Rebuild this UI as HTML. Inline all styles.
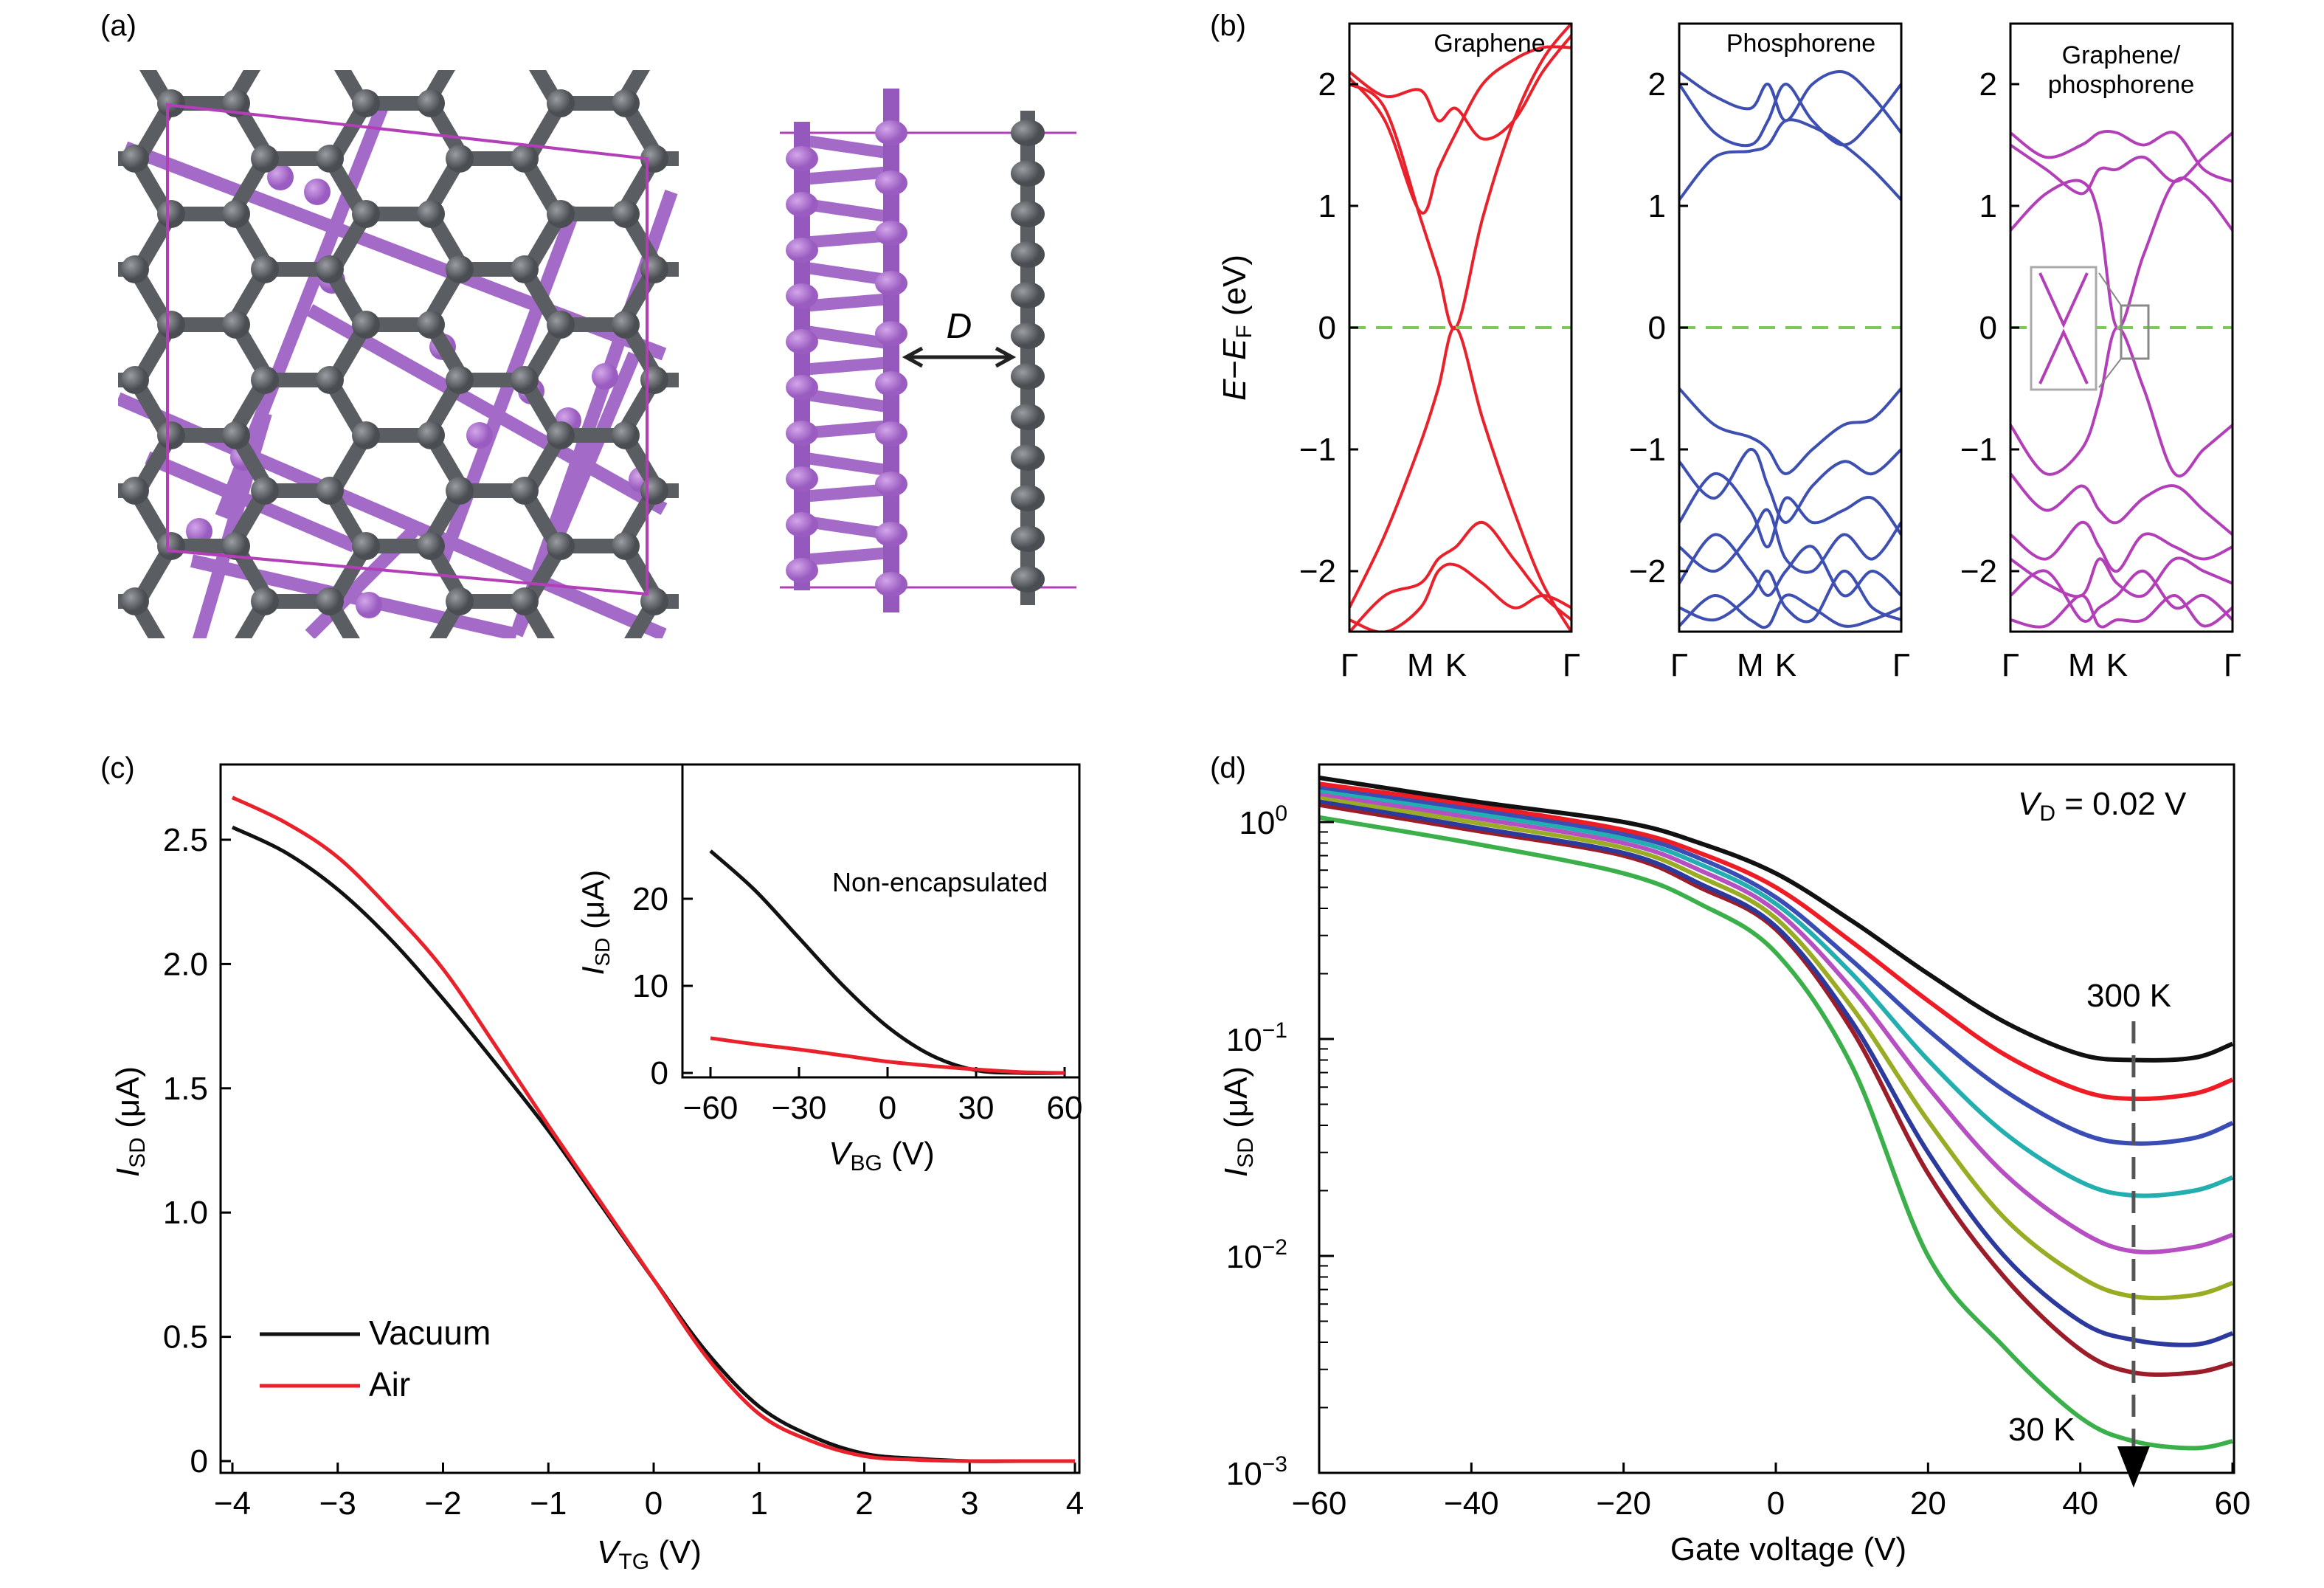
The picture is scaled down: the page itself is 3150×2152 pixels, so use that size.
<!DOCTYPE html>
<html><head><meta charset="utf-8"><style>
html,body{margin:0;padding:0;background:#fff;}
svg{display:block;font-family:"Liberation Sans",sans-serif;}
</style></head><body>
<svg id="fig" width="3150" height="2152" viewBox="0 0 3150 2152" xmlns="http://www.w3.org/2000/svg">
<g id="pa"></g>
<g id="pb"></g>
<g id="pc"></g>
<g id="pd"></g>
<text x="136" y="48" font-size="40">(a)</text>
<text x="1640" y="48" font-size="40">(b)</text>
<text x="136" y="1054" font-size="40">(c)</text>
<text x="1640" y="1054" font-size="40">(d)</text>
</svg>
<script>
const NS="http://www.w3.org/2000/svg";
function el(parent,tag,attrs,text){const e=document.createElementNS(NS,tag);for(const k in attrs)e.setAttribute(k,attrs[k]);if(text!==undefined)e.textContent=text;parent.appendChild(e);return e;}
function lin(d0,d1,r0,r1){return v=>r0+(v-d0)/(d1-d0)*(r1-r0);}
function smooth(pts){let d="M"+pts[0][0]+","+pts[0][1];for(let i=0;i<pts.length-1;i++){const p0=pts[Math.max(0,i-1)],p1=pts[i],p2=pts[i+1],p3=pts[Math.min(pts.length-1,i+2)];const c1=[p1[0]+(p2[0]-p0[0])/6,p1[1]+(p2[1]-p0[1])/6],c2=[p2[0]-(p3[0]-p1[0])/6,p2[1]-(p3[1]-p1[1])/6];d+=" C"+c1[0]+","+c1[1]+" "+c2[0]+","+c2[1]+" "+p2[0]+","+p2[1];}return d;}

/* ===== Panel c data ===== */
const cX=[-4,-3.5,-3,-2.5,-2,-1.5,-1,-0.5,0,0.5,1,1.5,2,2.5,3,3.5,4];
const cVacuum=[2.55,2.45,2.30,2.10,1.86,1.60,1.33,1.03,0.73,0.44,0.22,0.10,0.03,0.01,0,0,0];
const cAir=[2.67,2.57,2.43,2.22,1.98,1.67,1.35,1.04,0.73,0.42,0.19,0.08,0.02,0.005,0,0,0];
const cXTicks=[-4,-3,-2,-1,0,1,2,3,4];
const cYTicks=[0,0.5,1.0,1.5,2.0,2.5];
const cYLabels=["0","0.5","1.0","1.5","2.0","2.5"];
const inX=[-60,-45,-30,-15,0,15,30,45,60];
const inBlack=[25.5,21,15.5,10,5.3,2.0,0.3,0,0];
const inRed=[4,3.3,2.7,2.0,1.3,0.8,0.4,0.1,0];
const inXTicks=[-60,-30,0,30,60];
const inYTicks=[0,10,20];

/* ===== Panel d data ===== */
const dX=[-60,-40,-20,-10,0,10,20,30,40,47,55,60];
const dBlack=[1.6,1.25,1.0,0.8,0.58,0.35,0.2,0.12,0.085,0.08,0.082,0.095];
const dRed=[1.5,1.2,0.92,0.72,0.5,0.28,0.15,0.085,0.058,0.053,0.056,0.065];
const dBlue=[1.45,1.15,0.88,0.68,0.45,0.23,0.11,0.058,0.037,0.033,0.035,0.041];
const dCyan=[1.4,1.1,0.84,0.64,0.42,0.2,0.08,0.037,0.022,0.019,0.02,0.023];
const dMagenta=[1.35,1.05,0.8,0.6,0.39,0.17,0.06,0.024,0.013,0.0105,0.011,0.0125];
const dOlive=[1.3,1.0,0.76,0.56,0.36,0.14,0.042,0.015,0.008,0.0065,0.0066,0.0075];
const dNavy=[1.25,0.95,0.72,0.52,0.33,0.12,0.03,0.01,0.005,0.0041,0.0039,0.0044];
const dDarkRed=[1.2,0.92,0.7,0.5,0.32,0.11,0.024,0.008,0.0037,0.0029,0.0029,0.0032];
const dGreen=[1.05,0.8,0.58,0.42,0.25,0.075,0.010,0.0038,0.0018,0.0014,0.0013,0.0014];
const dXTicks=[-60,-40,-20,0,20,40,60];
const dYExp=[0,-1,-2,-3];

/* ===== Panel b data (k fraction, energies) ===== */
const kF=[0,0.16,0.32,0.40,0.48,0.6,0.74,0.87,1];
const grBands=[[2.0,1.8,0.9,0.45,0,0.9,1.7,2.2,2.5],[-2.3,-1.7,-0.95,-0.5,0,-0.75,-1.5,-2.1,-2.5],
[2.1,1.9,1.95,1.7,1.8,1.55,1.7,2.1,2.4],[-2.5,-2.2,-2.1,-1.9,-1.8,-1.6,-1.9,-2.2,-2.4],
[2.05,1.7,0.95,1.3,1.6,2.0,2.2,2.3,2.3],[-2.4,-2.5,-2.3,-2.0,-1.95,-2.1,-2.3,-2.2,-2.3]];
const phBands=[[1.05,1.4,1.45,1.5,1.7,1.65,1.5,1.3,1.05],[2.0,1.6,1.5,1.7,2.0,1.7,1.5,1.7,2.0],[2.1,1.9,1.8,2.0,1.7,2.0,2.1,1.9,1.6],
[-0.5,-0.8,-0.9,-1.0,-1.2,-1.0,-0.8,-0.75,-0.5],[-1.1,-1.4,-1.0,-1.3,-1.6,-1.3,-1.1,-1.2,-1.0],[-1.6,-1.2,-1.5,-1.8,-1.4,-1.6,-1.5,-1.4,-1.7],
[-1.8,-2.0,-1.7,-1.5,-1.9,-2.0,-1.7,-1.9,-1.6],[-2.1,-1.7,-2.0,-2.2,-2.0,-1.8,-2.2,-2.0,-2.2],[-2.3,-2.4,-2.2,-2.0,-2.3,-2.4,-2.0,-2.3,-2.4],[-2.45,-2.2,-2.4,-2.45,-2.2,-2.3,-2.45,-2.4,-2.3]];
const hyBands=[[0.8,1.1,1.2,0.9,0,0.6,1.2,1.1,0.8],[-0.8,-1.2,-1.0,-0.6,0,-0.5,-1.2,-1.0,-0.8],[1.5,1.3,1.1,1.3,1.3,1.4,1.2,1.4,1.6],
[1.6,1.4,1.5,1.6,1.6,1.5,1.6,1.3,1.2],[-1.2,-1.5,-1.3,-1.5,-1.6,-1.4,-1.3,-1.5,-1.7],[-1.7,-1.9,-1.6,-1.8,-2.0,-1.7,-1.8,-1.9,-1.8],
[-1.9,-2.1,-2.2,-1.9,-2.1,-2.2,-1.9,-2.0,-2.1],[-2.2,-2.0,-2.4,-2.3,-2.2,-2.0,-2.3,-2.2,-2.4],[-2.4,-2.45,-2.2,-2.45,-2.4,-2.4,-2.2,-2.45,-2.3]];

/* ---------- Panel c ---------- */
(function(){
const g=document.getElementById('pc');
const X=lin(-4,4,315,1457),Y=lin(0,2.5,1980,1138);
el(g,'rect',{x:299,y:1036,width:1164,height:960,fill:'none',stroke:'#000','stroke-width':3,});
cXTicks.forEach(t=>{el(g,'line',{x1:X(t),x2:X(t),y1:1996,y2:1982,stroke:'#000','stroke-width':3});
 const tx=el(g,'text',{x:X(t),y:2052,'font-size':44,'text-anchor':'middle'},(t<0?'\u2212':'')+Math.abs(t));
 });
cYTicks.forEach((t,i)=>{el(g,'line',{x1:299,x2:313,y1:Y(t),y2:Y(t),stroke:'#000','stroke-width':3});
 const tx=el(g,'text',{x:282,y:Y(t)+15,'font-size':44,'text-anchor':'end'},cYLabels[i]);
 });
const yt=el(g,'text',{transform:'translate(188,1520) rotate(-90)','font-size':44,'text-anchor':'middle'});

yt.innerHTML='<tspan font-style="italic">I</tspan><tspan font-size="30" dy="8">SD</tspan><tspan dy="-8"> (\u03bcA)</tspan>';
const xt=el(g,'text',{x:880,y:2118,'font-size':44,'text-anchor':'middle'});

xt.innerHTML='<tspan font-style="italic">V</tspan><tspan font-size="30" dy="8">TG</tspan><tspan dy="-8"> (V)</tspan>';
[[cVacuum,'#111','vacuum-line'],[cAir,'#e8212b','air-line']].forEach(([arr,c,n])=>{
 const p=el(g,'path',{d:smooth(cX.map((x,i)=>[X(x),Y(arr[i])])),fill:'none',stroke:c,'stroke-width':5});
 });
el(g,'line',{x1:352,x2:488,y1:1808,y2:1808,stroke:'#111','stroke-width':5,});
el(g,'text',{x:500,y:1822,'font-size':46,},'Vacuum');
el(g,'line',{x1:352,x2:488,y1:1878,y2:1878,stroke:'#e8212b','stroke-width':5,});
el(g,'text',{x:500,y:1892,'font-size':46,},'Air');
const ig=el(g,'g',{});
const IX=lin(-60,60,963,1443),IY=lin(0,20,1454,1218);
el(ig,'rect',{x:925,y:1036,width:538,height:424,fill:'#fff',stroke:'#000','stroke-width':3,});
inXTicks.forEach(t=>{el(ig,'line',{x1:IX(t),x2:IX(t),y1:1460,y2:1446,stroke:'#000','stroke-width':3});
 const tx=el(ig,'text',{x:IX(t),y:1516,'font-size':44,'text-anchor':'middle'},(t<0?'\u2212':'')+Math.abs(t));
 });
inYTicks.forEach(t=>{el(ig,'line',{x1:925,x2:939,y1:IY(t),y2:IY(t),stroke:'#000','stroke-width':3});
 const tx=el(ig,'text',{x:906,y:IY(t)+15,'font-size':44,'text-anchor':'end'},String(t));
 });
const iy=el(ig,'text',{transform:'translate(818,1250) rotate(-90)','font-size':42,'text-anchor':'middle'});

iy.innerHTML='<tspan font-style="italic">I</tspan><tspan font-size="28" dy="8">SD</tspan><tspan dy="-8"> (\u03bcA)</tspan>';
const ix=el(ig,'text',{x:1195,y:1578,'font-size':44,'text-anchor':'middle'});

ix.innerHTML='<tspan font-style="italic">V</tspan><tspan font-size="30" dy="8">BG</tspan><tspan dy="-8"> (V)</tspan>';
el(ig,'text',{x:1128,y:1208,'font-size':36,},'Non-encapsulated');
[[inBlack,'#111','inset-black-line'],[inRed,'#e8212b','inset-red-line']].forEach(([arr,c,n])=>{
 const p=el(ig,'path',{d:smooth(inX.map((x,i)=>[IX(x),IY(arr[i])])),fill:'none',stroke:c,'stroke-width':5});
 });
})();

/* ---------- Panel d ---------- */
(function(){
const g=document.getElementById('pd');
const X=lin(-60,60,1788,3026);
const Y=v=>1114-Math.log10(v)*294;
el(g,'defs',{}).innerHTML='<clipPath id="dclip"><rect x="1788" y="1036" width="1240" height="960"/></clipPath>';
const series=[[dBlack,'#111'],[dRed,'#ee1c25'],[dBlue,'#3a4db5'],[dCyan,'#23aeb0'],[dMagenta,'#b64fc2'],[dOlive,'#9aab24'],[dNavy,'#2b3a9c'],[dDarkRed,'#9b1d2a'],[dGreen,'#3bb04a']];
const names=['curve-300k','curve-270k','curve-240k','curve-210k','curve-180k','curve-150k','curve-120k','curve-90k','curve-30k'];
const cg=el(g,'g',{'clip-path':'url(#dclip)'});
series.slice().reverse().forEach(([arr,c],j)=>{const n=names[series.length-1-j];
 const p=el(cg,'path',{d:smooth(dX.map((x,i)=>[X(x),Y(arr[i])])),fill:'none',stroke:c,'stroke-width':6});
 });
el(g,'rect',{x:1788,y:1036,width:1240,height:960,fill:'none',stroke:'#000','stroke-width':3,});
dXTicks.forEach(t=>{el(g,'line',{x1:X(t),x2:X(t),y1:1996,y2:1982,stroke:'#000','stroke-width':3});
 const tx=el(g,'text',{x:X(t),y:2052,'font-size':44,'text-anchor':'middle'},(t<0?'\u2212':'')+Math.abs(t));
 });
dYExp.forEach(e=>{const y=Y(Math.pow(10,e));el(g,'line',{x1:1788,x2:1808,y1:y,y2:y,stroke:'#000','stroke-width':3});
 const tx=el(g,'text',{x:1745,y:y+16,'font-size':44,'text-anchor':'end'});
 tx.innerHTML='10<tspan font-size="30" dy="-18">'+(e<0?'\u2212':'')+Math.abs(e)+'</tspan>';
 
 for(let m=2;m<=9;m++){const v=Math.pow(10,e)*m;const yy=Y(v);if(yy>1036&&yy<1996)el(g,'line',{x1:1788,x2:1800,y1:yy,y2:yy,stroke:'#000','stroke-width':2});}});
const yt=el(g,'text',{transform:'translate(1690,1520) rotate(-90)','font-size':44,'text-anchor':'middle'});

yt.innerHTML='<tspan font-style="italic">I</tspan><tspan font-size="30" dy="8">SD</tspan><tspan dy="-8"> (\u03bcA)</tspan>';
el(g,'text',{x:2424,y:2114,'font-size':44,'text-anchor':'middle',},'Gate voltage (V)');
const vd=el(g,'text',{x:2735,y:1104,'font-size':44});

vd.innerHTML='<tspan font-style="italic">V</tspan><tspan font-size="30" dy="8">D</tspan><tspan dy="-8"> = 0.02 V</tspan>';
el(g,'text',{x:2828,y:1364,'font-size':44,},'300 K');
el(g,'text',{x:2722,y:1952,'font-size':44,},'30 K');
el(g,'line',{x1:X(47),x2:X(47),y1:1384,y2:1960,stroke:'#555','stroke-width':5,'stroke-dasharray':'30,16',});
el(g,'path',{d:`M${X(47)-22},1960 L${X(47)+22},1960 L${X(47)},2016 Z`,fill:'#000',});
})();

/* ---------- Panel b ---------- */
(function(){
const g=document.getElementById('pb');
const panels=[[1829,grBands,'#e8212b',['Graphene'],'graphene'],[2276,phBands,'#3d4fb0',['Phosphorene'],'phosphorene'],[2725,hyBands,'#b23fb8',['Graphene/','phosphorene'],'hybrid']];
const Y=lin(0,1,444,279);
el(g,'defs',{}).innerHTML=panels.map((p,i)=>`<clipPath id="bc${i}"><rect x="${p[0]}" y="32" width="301" height="824"/></clipPath>`).join('');
panels.forEach(([x0,bands,col,title,nm],pi)=>{
 const X=lin(0,1,x0,x0+301);
 const pg=el(g,'g',{});
 const cg=el(pg,'g',{'clip-path':`url(#bc${pi})`});
 bands.forEach(b=>{const p=el(cg,'path',{d:smooth(kF.map((k,i)=>[X(k),Y(b[i])])),fill:'none',stroke:col,'stroke-width':4});
  });
 el(cg,'line',{x1:x0,x2:x0+301,y1:Y(0),y2:Y(0),stroke:'#7cc95a','stroke-width':4,'stroke-dasharray':'22,14',});
 el(pg,'rect',{x:x0,y:32,width:301,height:824,fill:'none',stroke:'#000','stroke-width':3});
 [2,1,0,-1,-2].forEach(t=>{el(pg,'line',{x1:x0,x2:x0+12,y1:Y(t),y2:Y(t),stroke:'#000','stroke-width':3});
  const tx=el(pg,'text',{x:x0-18,y:Y(t)+15,'font-size':44,'text-anchor':'end'},(t<0?'\u2212':'')+Math.abs(t));
  });
 [[0,'\u0393'],[0.32,'M'],[0.48,'K'],[1,'\u0393']].forEach(([k,l])=>{const tx=el(pg,'text',{x:X(k),y:916,'font-size':44,'text-anchor':'middle'},l);
  });
 title.forEach((t,i)=>{const tx=el(pg,'text',{x:x0+(title.length>1?150:(pi==0?190:165)),y:(title.length>1?86:70)+i*40,'font-size':34,'text-anchor':'middle'},t);
  });
});
const yt=el(g,'text',{transform:'translate(1688,444) rotate(-90)','font-size':44,'text-anchor':'middle'});

yt.innerHTML='<tspan font-style="italic">E</tspan>\u2212<tspan font-style="italic">E</tspan><tspan font-size="30" dy="8">F</tspan><tspan dy="-8"> (eV)</tspan>';
el(g,'rect',{x:2753,y:362,width:88,height:166,fill:'#fff',stroke:'#aaa','stroke-width':3,});
el(g,'path',{d:'M2765,370 L2797,440 L2829,370 M2765,520 L2797,450 L2829,520',fill:'none',stroke:'#b23fb8','stroke-width':4});
el(g,'rect',{x:2875,y:414,width:37,height:72,fill:'none',stroke:'#888','stroke-width':3});
el(g,'path',{d:'M2875,414 L2845,370 M2875,486 L2845,525',fill:'none',stroke:'#888','stroke-width':2});
})();

/* ---------- Panel a ---------- */
(function(){
const g=document.getElementById('pa');
const P='#a36ac8',G='#5a5d61';
el(g,'defs',{}).innerHTML='<clipPath id="aclip"><rect x="160" y="95" width="760" height="770"/></clipPath><radialGradient id="gs" cx="0.35" cy="0.35"><stop offset="0" stop-color="#9a9da1"/><stop offset="1" stop-color="#4a4d51"/></radialGradient><radialGradient id="ps" cx="0.35" cy="0.35"><stop offset="0" stop-color="#d3a6ea"/><stop offset="1" stop-color="#9a5cc0"/></radialGradient>';
const cg=el(g,'g',{'clip-path':'url(#aclip)',});
const rods=[[170,200,900,480],[200,620,480,740],[260,760,700,860],[420,420,900,690],[560,720,420,860],[780,280,600,760],[910,260,700,860],[260,900,360,560],[520,140,300,700],[860,480,700,860],[160,540,900,860]];
rods.forEach(r=>el(cg,'line',{x1:r[0],y1:r[1],x2:r[2],y2:r[3],stroke:P,'stroke-width':18}));
[[380,240],[450,380],[600,470],[720,530],[820,510],[770,570],[650,590],[500,820],[870,650],[270,720],[430,260],[330,620]].forEach(c=>el(cg,'circle',{cx:c[0],cy:c[1],r:18,fill:'url(#ps)'}));
const b=88,h=75,atoms=[];
for(let r=-2;r<10;r++){const y=215+r*h;const off=(r%2===0)?359:232;
 for(let k=-3;k<5;k++){const x=off+k*3*b;atoms.push([x,y,r,0]);atoms.push([x+b,y,r,1]);}}
const bonds=[];
atoms.forEach(a=>{if(a[3]===0)bonds.push([a[0],a[1],a[0]+b,a[1]]);
 const dx=a[3]===0?-b/2:b/2;bonds.push([a[0],a[1],a[0]+dx,a[1]+h]);});
bonds.forEach(l=>el(cg,'line',{x1:l[0],y1:l[1],x2:l[2],y2:l[3],stroke:G,'stroke-width':20}));
atoms.forEach(a=>el(cg,'circle',{cx:a[0],cy:a[1],r:19,fill:'url(#gs)'}));
el(g,'path',{d:'M227,142 L877,215 L877,805 L227,746 Z',fill:'none',stroke:'#b23fb8','stroke-width':4,});
const sg=el(g,'g',{});
el(sg,'line',{x1:1057,x2:1459,y1:180,y2:180,stroke:'#b23fb8','stroke-width':3});
el(sg,'line',{x1:1057,x2:1459,y1:796,y2:796,stroke:'#b23fb8','stroke-width':3});
for(let i=0;i<14;i++){const y=190+i*43;el(sg,'line',{x1:1087,y1:y+(i%2?10:0),x2:1208,y2:y+(i%2?0:18),stroke:P,'stroke-width':16});}
el(sg,'line',{x1:1087,x2:1087,y1:165,y2:800,stroke:'#9559bd','stroke-width':22});
el(sg,'line',{x1:1208,x2:1208,y1:120,y2:830,stroke:'#9559bd','stroke-width':22});
for(let i=0;i<10;i++){el(sg,'ellipse',{cx:1087,cy:215+i*62,rx:22,ry:17,fill:'url(#ps)'});el(sg,'ellipse',{cx:1208,cy:180+i*68,rx:22,ry:17,fill:'url(#ps)'});}
el(sg,'line',{x1:1393,x2:1393,y1:150,y2:820,stroke:G,'stroke-width':20});
for(let i=0;i<12;i++){el(sg,'ellipse',{cx:1393,cy:180+i*55,rx:23,ry:18,fill:'url(#gs)'});}
el(sg,'line',{x1:1230,x2:1370,y1:484,y2:484,stroke:'#222','stroke-width':5,});
el(sg,'path',{d:'M1250,472 L1228,484 L1250,496 M1350,472 L1372,484 L1350,496',fill:'none',stroke:'#222','stroke-width':5});
el(sg,'text',{x:1300,y:458,'font-size':48,'font-style':'italic','text-anchor':'middle',},'D');
})();
</script>
</body></html>
